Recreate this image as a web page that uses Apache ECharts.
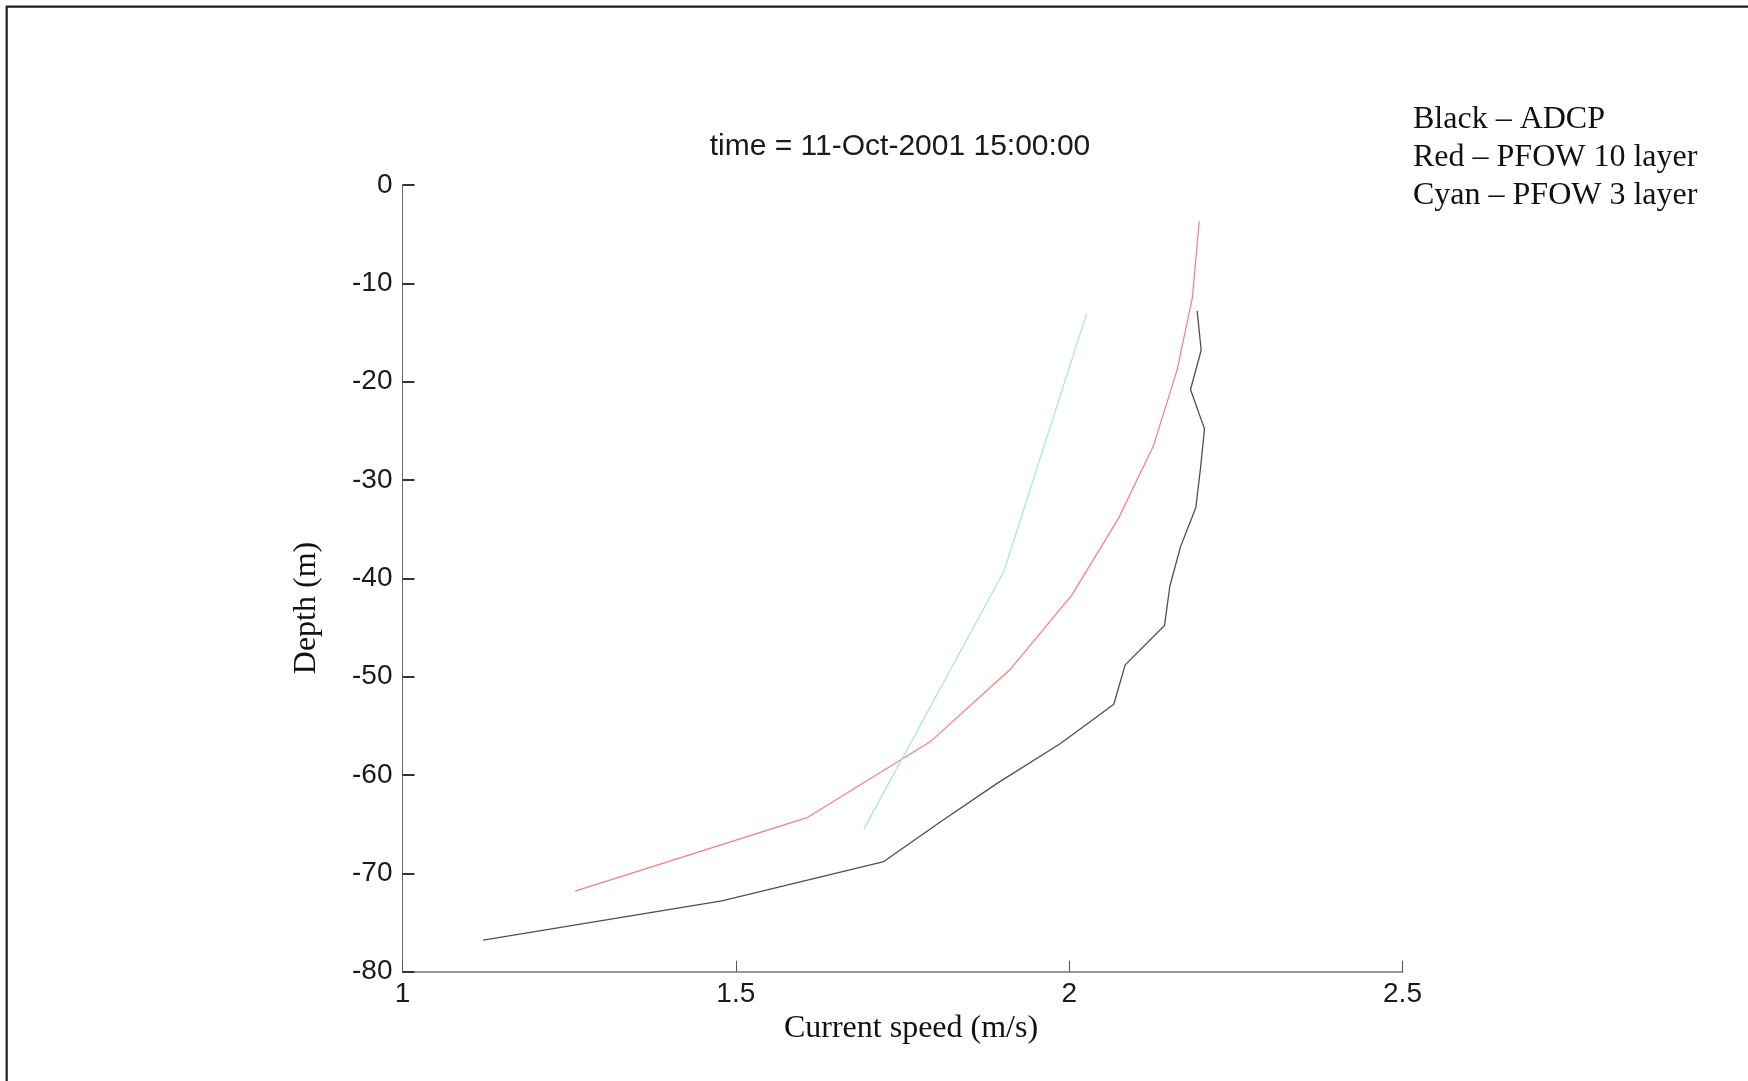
<!DOCTYPE html>
<html>
<head>
<meta charset="utf-8">
<style>
html,body{margin:0;padding:0;background:#fff;}
#chart{width:1748px;height:1081px;}
</style>
<script src="https://cdn.jsdelivr.net/npm/echarts@6/dist/echarts.min.js"></script>
</head>
<body>
<div id="chart"></div>
<script>
// Depth (m) and current speed (m/s)
const adcpDepth = [-12.8, -16.8, -20.8, -24.8, -28.8, -32.8, -36.8, -40.8, -44.8, -48.8, -52.8, -56.8, -60.8, -64.8, -68.8, -72.8, -76.8];
const adcpSpeed = [2.192, 2.198, 2.182, 2.203, 2.197, 2.190, 2.167, 2.151, 2.143, 2.084, 2.067, 1.987, 1.893, 1.806, 1.722, 1.479, 1.121];

const pfow10Depth = [-3.7, -11.4, -18.8, -26.6, -33.9, -41.7, -49.3, -56.6, -64.3, -71.8];
const pfow10Speed = [2.195, 2.185, 2.162, 2.126, 2.074, 2.004, 1.911, 1.792, 1.608, 1.259];

const pfow3Depth = [-13.1, -39.3, -65.5];
const pfow3Speed = [2.026, 1.902, 1.692];

const xTicks = [1, 1.5, 2, 2.5];
const yTicks = [0, -10, -20, -30, -40, -50, -60, -70, -80];

const titleText = 'time = 11-Oct-2001 15:00:00';
const xTitle = 'Current speed (m/s)';
const yTitle = 'Depth (m)';
const legendLines = ['Black \u2013 ADCP', 'Red \u2013 PFOW 10 layer', 'Cyan \u2013 PFOW 3 layer'];

function pairs(xs, ys){ return xs.map((x,i)=>[x, ys[i]]); }

const chart = echarts.init(document.getElementById('chart'), null, {renderer:'canvas'});
const sans = '"Liberation Sans", Arial, sans-serif';
const serif = '"Liberation Serif", "Times New Roman", serif';

const option = {
  animation: false,
  backgroundColor: '#ffffff',
  title: {
    text: titleText,
    left: 895, top: 127,
    textAlign: 'center',
    textStyle: {fontFamily: sans, fontSize: 30, fontWeight: 'normal', color: '#1a1a1a'}
  },
  grid: {left: 402.5, right: 1748 - 1402.5, top: 185, bottom: 1081 - 971.7, containLabel: false},
  xAxis: {
    type: 'value', min: xTicks[0], max: xTicks[xTicks.length-1], interval: 0.5,
    position: 'bottom',
    axisLine: {show: true, onZero: false, lineStyle: {color: '#9a9a9a', width: 2}},
    axisTick: {show: true, inside: true, length: 11, lineStyle: {color: '#555', width: 1}},
    axisLabel: {fontFamily: sans, fontSize: 28, color: '#1a1a1a', margin: 9,
      formatter: v => String(v)},
    splitLine: {show: false}
  },
  yAxis: {
    type: 'value', min: yTicks[yTicks.length-1], max: yTicks[0], interval: 10,
    axisLine: {show: true, onZero: false, lineStyle: {color: '#666', width: 1}},
    axisTick: {show: true, inside: true, length: 12, lineStyle: {color: '#333', width: 2}},
    axisLabel: {fontFamily: sans, fontSize: 28, color: '#1a1a1a', margin: 10, padding: [0, 0, 8, 0]},
    splitLine: {show: false}
  },
  series: [
    {name: 'ADCP', type: 'line', data: pairs(adcpSpeed, adcpDepth), showSymbol: false, symbol: 'none',
      lineStyle: {color: '#4e4e4e', width: 1.3}},
    {name: 'PFOW 10 layer', type: 'line', data: pairs(pfow10Speed, pfow10Depth), showSymbol: false, symbol: 'none',
      lineStyle: {color: '#ff7a7a', width: 1.2}},
    {name: 'PFOW 3 layer', type: 'line', data: pairs(pfow3Speed, pfow3Depth), showSymbol: false, symbol: 'none',
      lineStyle: {color: '#a6e0ee', width: 1.2}}
  ],
  graphic: [
    {type: 'rect', shape: {x: 6.7, y: 6.7, width: 1800, height: 1200}, silent: true,
      style: {fill: 'none', stroke: '#1c221c', lineWidth: 2.2}},
    {type: 'text', x: 911, y: 1029, silent: true,
      style: {text: xTitle, font: '32px ' + serif, fill: '#111', textAlign: 'center', textVerticalAlign: 'middle'}},
    {type: 'text', x: 307, y: 608, rotation: Math.PI/2, silent: true,
      style: {text: yTitle, font: '32px ' + serif, fill: '#111', textAlign: 'center', textVerticalAlign: 'middle'}},
    ...legendLines.map((t, i) => ({type: 'text', x: 1413, y: 119.5 + i*38, silent: true,
      style: {text: t, font: '32px ' + serif, fill: '#111', textAlign: 'left', textVerticalAlign: 'middle'}}))
  ]
};
chart.setOption(option);
</script>
</body>
</html>
